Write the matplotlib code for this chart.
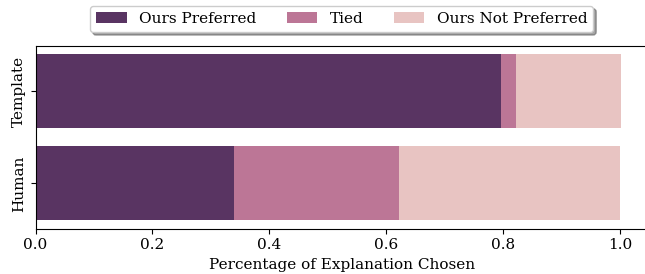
import matplotlib
matplotlib.use("Agg")
import matplotlib.pyplot as plt
import numpy as np

categories = ["Human", "Template"]
ours_preferred = [0.340, 0.796]
tied = [0.282, 0.026]
ours_not_preferred = [0.378, 0.180]
series_labels = ["Ours Preferred", "Tied", "Ours Not Preferred"]
colors = ["#593462", "#bc7696", "#e8c4c2"]

plt.rcParams['font.family'] = ['DejaVu Serif']
plt.rcParams['font.size'] = 11

fig = plt.figure(figsize=(6.45, 2.74), dpi=100)
W, H = 645, 274
ax = fig.add_axes([35.5 / W, 45.5 / H, 613.7 / W, 182.5 / H])

y = np.arange(len(categories))
left = np.zeros(len(categories))
for vals, lab, c in zip([ours_preferred, tied, ours_not_preferred], series_labels, colors):
    ax.barh(y, vals, left=left, height=0.8, color=c, label=lab)
    left = left + np.array(vals)

ax.set_xlim(0, 1.05)
ax.set_ylim(-0.49, 1.49)
ax.set_yticks(y)
ax.set_yticklabels(categories, rotation=90, va='center')
ax.set_xticks([0.0, 0.2, 0.4, 0.6, 0.8, 1.0])
ax.set_xlabel("Percentage of Explanation Chosen", labelpad=4)
ax.spines['right'].set_visible(False)

leg = ax.legend(loc='lower center', bbox_to_anchor=(0.499, 1.0), ncol=3,
                frameon=True, fancybox=True, shadow=True, fontsize=11,
                borderaxespad=0.9)

fig.savefig("out.png", dpi=100)
